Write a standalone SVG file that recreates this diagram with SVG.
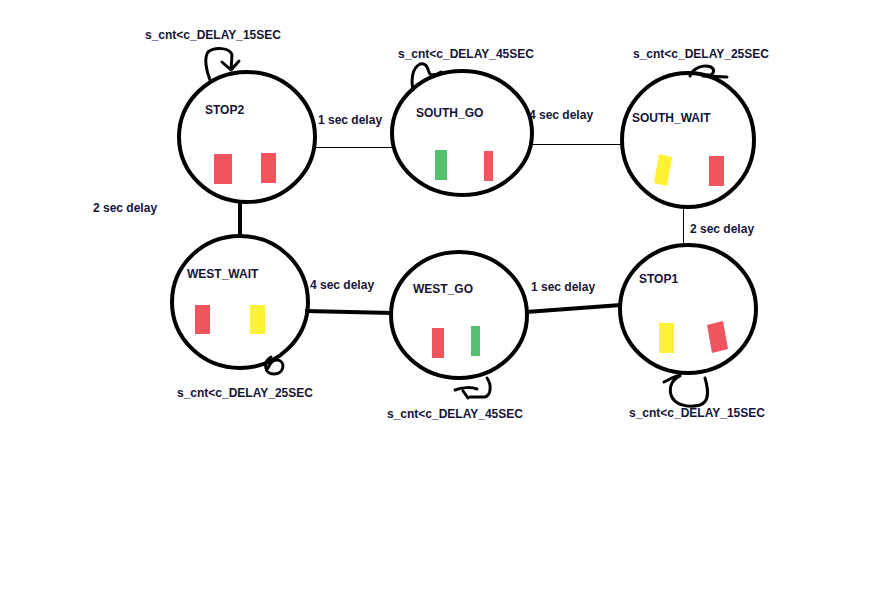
<svg xmlns="http://www.w3.org/2000/svg" width="884" height="608" viewBox="0 0 884 608">
<style>
.st{fill:none;stroke:#000;stroke-width:4}
.t{font-family:"Liberation Sans",Arial,sans-serif;font-weight:bold;font-size:12px;fill:#15153a}
.thin{stroke:#000;stroke-width:1;fill:none}
.thick{stroke:#000;stroke-width:4;fill:none}
.loop{stroke:#000;stroke-width:3;fill:none;stroke-linecap:round;stroke-linejoin:round}
.r{fill:#f0545c}.g{fill:#55c06e}.y{fill:#fff234}
</style>
<rect width="884" height="608" fill="#fff"/>
<g id="connectors">
<line class="thin" x1="313" y1="147.5" x2="393" y2="147.5"/>
<line class="thin" x1="531" y1="144.5" x2="622" y2="144.5"/>
<line class="thin" x1="683.5" y1="206" x2="683.5" y2="245"/>
<line class="thick" x1="240" y1="201" x2="240" y2="238"/>
<line class="thick" x1="305" y1="311" x2="393" y2="313"/>
<line class="thick" x1="526" y1="312" x2="621" y2="305"/>
<text class="t" x="318" y="124">1 sec delay</text>
<text class="t" x="529" y="119">4 sec delay</text>
<text class="t" x="690" y="233">2 sec delay</text>
<text class="t" x="93" y="212">2 sec delay</text>
<text class="t" x="310" y="289">4 sec delay</text>
<text class="t" x="531" y="291">1 sec delay</text>
</g>
<g id="STOP2">
<ellipse class="st" cx="247" cy="137" rx="68" ry="65"/>
<text class="t" x="205" y="114">STOP2</text>
<rect class="r" x="214" y="154" width="18" height="30"/>
<rect class="r" x="261" y="153" width="15" height="30"/>
<path class="loop" d="M210 80 C206 70 204 58 208 52 C214 47 230 47 232 55 L231 70 M222 62 L231 70 L239 61"/>
<text class="t" x="145" y="39">s_cnt&lt;c_DELAY_15SEC</text>
</g>
<g id="SOUTH_GO">
<ellipse class="st" cx="462" cy="133" rx="70" ry="62"/>
<text class="t" x="416" y="117">SOUTH_GO</text>
<rect class="g" x="435" y="150" width="12" height="30"/>
<rect class="r" x="484" y="151" width="9" height="30"/>
<path class="loop" d="M413 90 C411 80 412 68 420 64 C428 62 428 72 430 74 C434 76 438 74 441 72"/>
<text class="t" x="398" y="58">s_cnt&lt;c_DELAY_45SEC</text>
</g>
<g id="SOUTH_WAIT">
<ellipse class="st" cx="688" cy="140" rx="66" ry="67"/>
<text class="t" x="632" y="122">SOUTH_WAIT</text>
<polygon class="y" points="659,154 672,157 667,186 654,183"/>
<rect class="r" x="709" y="156" width="15" height="30"/>
<path class="loop" d="M690 76 C693 68 703 64 711 67 C716 70 713 76 708 75 M703 76 L727 77"/>
<text class="t" x="633" y="58">s_cnt&lt;c_DELAY_25SEC</text>
</g>
<g id="WEST_WAIT">
<ellipse class="st" cx="240" cy="302" rx="68" ry="66"/>
<text class="t" x="187" y="278">WEST_WAIT</text>
<rect class="r" x="195" y="305" width="15" height="29"/>
<rect class="y" x="250" y="305" width="15" height="29"/>
<path class="loop" d="M271 357 C263 362 264 374 274 374 C284 374 286 362 278 360 C272 359 270 364 268 368"/>
<text class="t" x="177" y="397">s_cnt&lt;c_DELAY_25SEC</text>
</g>
<g id="WEST_GO">
<ellipse class="st" cx="459" cy="315" rx="68" ry="63"/>
<text class="t" x="413" y="293">WEST_GO</text>
<rect class="r" x="432" y="328" width="12" height="30"/>
<rect class="g" x="471" y="326" width="9" height="30"/>
<path class="loop" d="M487 378 C492 385 491 395 485 397 L470 397 M455 390 C462 387 472 387 477 389 M463 391 L468 398"/>
<text class="t" x="387" y="418">s_cnt&lt;c_DELAY_45SEC</text>
</g>
<g id="STOP1">
<ellipse class="st" cx="688" cy="309" rx="68" ry="64"/>
<text class="t" x="639" y="283">STOP1</text>
<rect class="y" x="659" y="323" width="15" height="30"/>
<polygon class="r" points="707,325 723,321 728,349 712,353"/>
<path class="loop" d="M705 378 C708 388 710 402 700 405 C688 408 674 405 671 395 C669 387 672 380 680 376 M664 382 L672 378 L680 375"/>
<text class="t" x="629" y="417">s_cnt&lt;c_DELAY_15SEC</text>
</g>
</svg>
